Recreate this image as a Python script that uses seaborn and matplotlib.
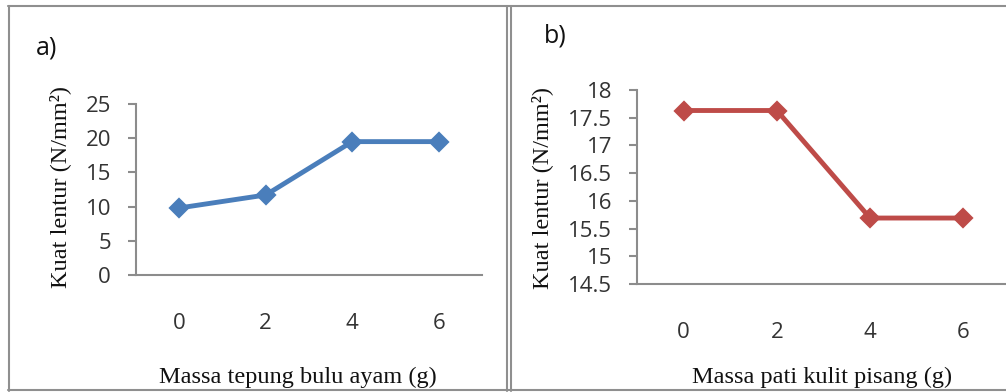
import matplotlib
matplotlib.use('Agg')
import matplotlib.pyplot as plt
import matplotlib.lines as mlines
import seaborn as sns
import pandas as pd

# data
massa = ['0', '2', '4', '6']
kuat_a = [9.8, 11.7, 19.5, 19.5]
kuat_b = [17.63, 17.63, 15.69, 15.69]

yticks_a = [0, 5, 10, 15, 20, 25]
yticks_b = [14.5, 15, 15.5, 16, 16.5, 17, 17.5, 18]

sns.set_style('white')
plt.rcParams['font.family'] = ['Open Sans', 'DejaVu Sans']

fig = plt.figure(figsize=(10.06, 3.92), dpi=100)
W, H = 1006, 392


def px_axes(left, right, top, bottom):
    return fig.add_axes([left / W, 1 - bottom / H, (right - left) / W, (bottom - top) / H])


ax1 = px_axes(136, 482, 104, 275)
ax2 = px_axes(637, 1010, 90, 284)

df_a = pd.DataFrame({'massa': massa, 'kuat': kuat_a})
df_b = pd.DataFrame({'massa': massa, 'kuat': kuat_b})

sns.pointplot(data=df_a, x='massa', y='kuat', color='#4A7EBB', markers='D',
              markersize=8, linewidth=3.5, errorbar=None, ax=ax1)
sns.pointplot(data=df_b, x='massa', y='kuat', color='#BE4B48', markers='D',
              markersize=8, linewidth=3.5, errorbar=None, ax=ax2)

serif = ['Liberation Serif', 'DejaVu Serif']
setup = [
    (ax1, yticks_a, 'Massa tepung bulu ayam (g)', (-0.22, 0.515), (0.468, -0.596)),
    (ax2, yticks_b, 'Massa pati kulit pisang (g)', (-0.255, 0.495), (0.496, -0.479)),
]
for ax, yt, xl, ylc, xlc in setup:
    ax.set_xlim(-0.5, 3.5)
    ax.set_ylim(yt[0], yt[-1])
    ax.set_yticks(yt)
    ax.set_yticklabels(['%g' % v for v in yt])
    for s in ['top', 'right']:
        ax.spines[s].set_visible(False)
    for s in ['left', 'bottom']:
        ax.spines[s].set_color('#8c8c8c')
        ax.spines[s].set_linewidth(1.5)
    ax.tick_params(axis='y', left=True, length=6, width=1.5, color='#8c8c8c',
                   pad=12, labelsize=16, labelcolor='#333333')
    ax.tick_params(axis='x', bottom=False, pad=24, labelsize=16, labelcolor='#333333')
    ax.set_ylabel('Kuat lentur (N/mm²)', family=serif, fontsize=17.5, color='#111111')
    ax.yaxis.label.set(va='center', ha='center', rotation_mode='default')
    ax.yaxis.set_label_coords(*ylc)
    ax.set_xlabel(xl, family=serif, fontsize=17.5, color='#111111')
    ax.xaxis.label.set(va='center')
    ax.xaxis.set_label_coords(*xlc)

fig.text(47 / W, 1 - 48 / H, 'a)', fontsize=18, ha='center', va='center', color='#111111')
fig.text(555 / W, 1 - 36 / H, 'b)', fontsize=18, ha='center', va='center', color='#111111')

# panel frames
frame = dict(color='#8f8f8f', linewidth=1.5, transform=fig.transFigure)
for x0, y0, x1, y1 in [(8, 6, 1006, 6), (8, 390, 1006, 390), (9, 6, 9, 391),
                       (507, 6, 507, 391), (511, 6, 511, 391)]:
    fig.add_artist(mlines.Line2D([x0 / W, x1 / W], [1 - y0 / H, 1 - y1 / H], **frame))

fig.savefig('out.png', dpi=100)
